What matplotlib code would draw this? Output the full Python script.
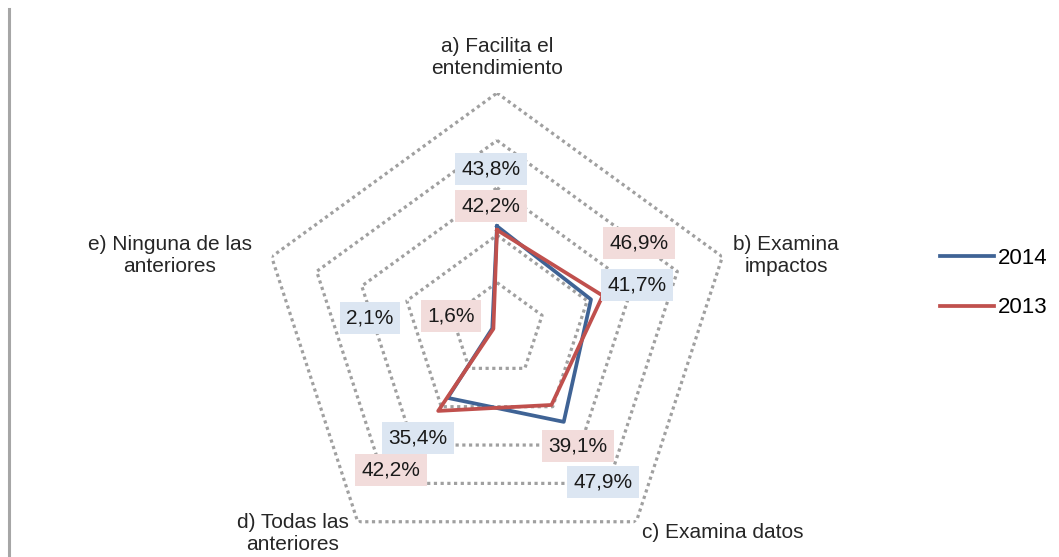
import numpy as np
import matplotlib
matplotlib.use("Agg")
import matplotlib.pyplot as plt
from matplotlib.lines import Line2D

plt.rcParams['font.family'] = ['Liberation Sans', 'DejaVu Sans']

# Datos
categorias = ['a) Facilita el\nentendimiento', 'b) Examina\nimpactos', 'c) Examina datos',
              'd) Todas las\nanteriores', 'e) Ninguna de las\nanteriores']
v2014 = [43.8, 41.7, 47.9, 35.4, 2.1]
v2013 = [42.2, 46.9, 39.1, 42.2, 1.6]
etiq2014 = ['43,8%', '41,7%', '47,9%', '35,4%', '2,1%']
etiq2013 = ['42,2%', '46,9%', '39,1%', '42,2%', '1,6%']
anillos = [20, 40, 60, 80, 100]

W, H = 1059, 557
fig = plt.figure(figsize=(W / 100, H / 100), dpi=100)

# centro del radar (pixeles) y radio para 100%
cx, cy, R = 497, 330, 237
ax = fig.add_axes([(cx - R) / W, (H - cy - R) / H, 2 * R / W, 2 * R / H], projection='polar')
ax.set_theta_offset(np.pi / 2)
ax.set_theta_direction(-1)
ax.set_ylim(0, 100)
ax.grid(False)
ax.spines['polar'].set_visible(False)
ax.set_xticks([])
ax.set_yticks([])
ax.patch.set_alpha(0)

n = len(categorias)
theta = np.linspace(0, 2 * np.pi, n, endpoint=False)
theta_c = np.append(theta, theta[0])

for r in anillos:
    ax.plot(theta_c, [r] * (n + 1), color='#a0a0a0', lw=2.3,
            linestyle=(0, (1, 1.1)), zorder=1)

azul = '#3f6395'
rojo = '#c0504d'
ax.plot(theta_c, v2014 + v2014[:1], color=azul, lw=2.7, label='2014', zorder=3)
ax.plot(theta_c, v2013 + v2013[:1], color=rojo, lw=2.7, label='2013', zorder=4)

def px(x, y):
    return x / W, 1 - y / H

# etiquetas de categorias
pos_cat = [(497, 58), (786, 256), (723, 532), (293, 533), (170, 256)]
for txt, (x, y) in zip(categorias, pos_cat):
    fig.text(*px(x, y), txt, ha='center', va='center', fontsize=15,
             color='#262626', linespacing=1.2)

# etiquetas de valores
pos2014 = [(491, 169), (637, 285), (603, 482), (418, 438), (370, 318)]
pos2013 = [(491, 206), (639, 243), (578, 446), (391, 470), (451, 316)]
for txt, (x, y) in zip(etiq2014, pos2014):
    fig.text(*px(x, y), txt, ha='center', va='center', fontsize=15, color='#1a1a1a',
             bbox=dict(boxstyle='square,pad=0.3', fc='#dce6f2', ec='none'), zorder=5)
for txt, (x, y) in zip(etiq2013, pos2013):
    fig.text(*px(x, y), txt, ha='center', va='center', fontsize=15, color='#1a1a1a',
             bbox=dict(boxstyle='square,pad=0.3', fc='#f2dcdb', ec='none'), zorder=5)

# leyenda
handles = [Line2D([], [], color=azul, lw=2.7), Line2D([], [], color=rojo, lw=2.7)]
fig.legend(handles, ['2014', '2013'], loc='center left',
           bbox_to_anchor=px(940, 283), frameon=False, fontsize=16,
           handlelength=2.45, handletextpad=0.15, labelspacing=1.3,
           borderpad=0, borderaxespad=0)

# linea gris del borde izquierdo
fig.add_artist(Line2D([9 / W, 9 / W], [0, 1 - 9 / H], color='#a6a6a6', lw=2.2))

fig.savefig('out.png', dpi=100)
